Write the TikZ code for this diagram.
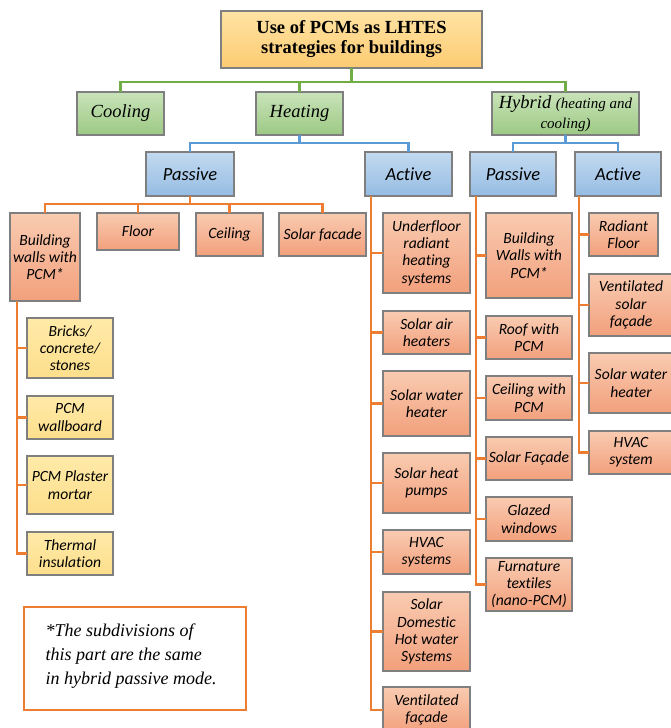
\documentclass[tikz,border=0pt]{standalone}
\usepackage{fontspec}
\setmainfont{Liberation Serif}
\newfontfamily\calfont[Ligatures=NoCommon]{Carlito}
\usetikzlibrary{calc}
\definecolor{gline}{HTML}{70AD47}
\definecolor{bline}{HTML}{5B9BD5}
\definecolor{oline}{HTML}{ED7D31}
\definecolor{bord}{HTML}{7F7F7F}
\definecolor{otop}{HTML}{F9CBB1}
\definecolor{obot}{HTML}{F2A07C}
\definecolor{ytop}{HTML}{FFEAA8}
\definecolor{ybot}{HTML}{FDDF8C}
\definecolor{gtop}{HTML}{C9E3B9}
\definecolor{gbot}{HTML}{9CC984}
\definecolor{btop}{HTML}{C3DAF0}
\definecolor{bbot}{HTML}{95BCE3}
\definecolor{ttop}{HTML}{FFE3A3}
\definecolor{tbot}{HTML}{FCCB72}
\tikzset{
  bx/.style={draw=bord, line width=1.1pt, inner sep=0pt, outer sep=0pt, align=center, anchor=north west, text=black},
  obox/.style={bx, top color=otop, bottom color=obot, font=\calfont\itshape\fontsize{15.6}{17.3}\selectfont},
  ybox/.style={bx, top color=ytop, bottom color=ybot, font=\calfont\itshape\fontsize{15.6}{17.3}\selectfont},
  gbox/.style={bx, top color=gtop, bottom color=gbot, font=\itshape\fontsize{18.5}{20}\selectfont},
  bbox/.style={bx, top color=btop, bottom color=bbot, font=\calfont\itshape\fontsize{18.5}{20}\selectfont},
  tbox/.style={bx, top color=ttop, bottom color=tbot, font=\bfseries\fontsize{18.5}{20}\selectfont},
  gl/.style={draw=gline, line width=2.6pt},
  bl/.style={draw=bline, line width=2.6pt},
  ol/.style={draw=oline, line width=2.8pt},
}
\newcommand{\bxn}[7]{\node[#1, minimum width=#5pt, minimum height=#6pt] (#2) at (#3,#4) {#7};}
\begin{document}
\begin{tikzpicture}[x=1pt,y=-1pt]
\useasboundingbox (0,0) rectangle (670,728);
\fill[white] (0,0) rectangle (670,728);
% nodes
\bxn{tbox}{title}{221}{11}{261}{57}{Use of PCMs as LHTES\\strategies for buildings}
\bxn{gbox}{cool}{77}{92}{87}{43}{Cooling}
\bxn{gbox}{heat}{256}{92}{87}{43}{Heating}
\bxn{gbox}{hyb}{492}{92}{147}{43}{Hybrid {\fontsize{15}{17}\selectfont(heating and}\\{\fontsize{15}{17}\selectfont cooling)}}
\bxn{bbox}{hpas}{146}{152}{88}{44}{Passive}
\bxn{bbox}{hact}{365}{152}{87}{44}{Active}
\bxn{bbox}{ypas}{470}{152}{86}{44}{Passive}
\bxn{bbox}{yact}{575}{152}{86}{44}{Active}
% heating passive
\bxn{obox}{bw}{10}{213}{70}{88}{Building\\walls with\\PCM*}
\bxn{obox}{floor}{97}{213}{82}{37}{Floor}
\bxn{obox}{ceil}{196}{213}{67}{43}{Ceiling}
\bxn{obox}{sfac}{279}{213}{87}{43}{Solar facade}
\bxn{ybox}{bricks}{27}{318}{86}{60}{Bricks/\\concrete/\\stones}
\bxn{ybox}{wallb}{27}{396}{86}{43}{PCM\\wallboard}
\bxn{ybox}{plast}{27}{456}{86}{58}{PCM Plaster\\mortar}
\bxn{ybox}{therm}{27}{532}{86}{43}{Thermal\\insulation}
% heating active
\bxn{obox}{uf}{383}{213}{87}{80}{Underfloor\\radiant\\heating\\systems}
\bxn{obox}{sah}{383}{311}{87}{43}{Solar air\\heaters}
\bxn{obox}{swh}{383}{371}{87}{65}{Solar water\\heater}
\bxn{obox}{shp}{383}{453}{87}{60}{Solar heat\\pumps}
\bxn{obox}{hvac}{383}{530}{87}{44}{HVAC\\systems}
\bxn{obox}{sdhw}{383}{592}{87}{79}{Solar\\Domestic\\Hot water\\Systems}
\bxn{obox}{vf}{383}{687}{87}{46}{Ventilated\\façade}
% hybrid passive
\bxn{obox}{ybw}{486}{213}{86}{85}{Building\\Walls with\\PCM*}
\bxn{obox}{roof}{486}{316}{86}{43}{Roof with\\PCM}
\bxn{obox}{ceilp}{486}{376}{86}{44}{Ceiling with\\PCM}
\bxn{obox}{sfy}{486}{437}{86}{43}{Solar Façade}
\bxn{obox}{glaz}{486}{497}{86}{44}{Glazed\\windows}
\bxn{obox}{furn}{486}{558}{86}{53}{Furnature\\textiles\\(nano-PCM)}
% hybrid active
\bxn{obox}{rad}{589}{213}{69}{43}{Radiant\\Floor}
\bxn{obox}{vsf}{589}{274}{84}{62}{Ventilated\\solar\\façade}
\bxn{obox}{swy}{589}{353}{84}{60}{Solar water\\heater}
\bxn{obox}{hvy}{589}{431}{84}{43}{HVAC\\system}
% note
\node[draw=oline, line width=2.2pt, fill=white, anchor=north west, minimum width=222pt, minimum height=103pt, inner sep=0pt] (note) at (23,606) {};
\node[anchor=west, align=left, font=\itshape\fontsize{18}{24}\selectfont, text=black] (notetext) at ([xshift=19pt,yshift=3pt]note.west) {*The subdivisions of\\this part are the same\\in hybrid passive mode.};
% connectors
\draw[gl] (title.south) -- ++(0,14) -| (cool.north);
\draw[gl] (title.south) -- ++(0,14) -| (heat.north);
\draw[gl] (title.south) -- ++(0,14) -| (hyb.north);
\draw[bl] (heat.south) -- ++(0,8) -| (hpas.north);
\draw[bl] (heat.south) -- ++(0,8) -| (hact.north);
\draw[bl] (hyb.south) -- ++(0,8) -| (ypas.north);
\draw[bl] (hyb.south) -- ++(0,8) -| (yact.north);
\foreach \c in {bw,floor,ceil,sfac}
  \draw[ol] (hpas.south) -- ++(0,8) -| (\c.north);
\foreach \c in {bricks,wallb,plast,therm}
  \draw[ol] ([xshift=7pt]bw.south west) |- (\c.west);
\foreach \c in {uf,sah,swh,shp,hvac,sdhw,vf}
  \draw[ol] ([xshift=6pt]hact.south west) |- (\c.west);
\foreach \c in {ybw,roof,ceilp,sfy,glaz,furn}
  \draw[ol] ([xshift=6pt]ypas.south west) |- (\c.west);
\foreach \c in {rad,vsf,swy,hvy}
  \draw[ol] ([xshift=4pt]yact.south west) |- (\c.west);
\end{tikzpicture}
\end{document}
